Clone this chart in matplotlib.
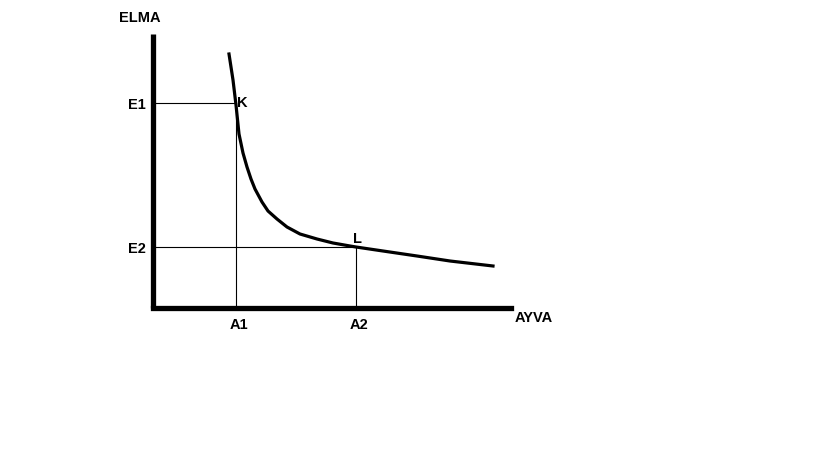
import matplotlib.pyplot as plt

# indifference curve (ayva on x, elma on y)
ayva = [76, 80, 83, 86, 90, 94, 98, 102, 109, 115, 124, 134, 147, 164, 180, 197, 203,
        230, 264, 297, 340]
elma = [254, 228, 203, 174, 155, 141, 129, 119, 106, 97, 89, 81, 74, 69, 65, 62, 61,
        57, 52, 47, 42]

x_ticks = [83, 203]
x_labels = ["A1", "A2"]
y_ticks = [205, 61]
y_labels = ["E1", "E2"]
points = ["K", "L"]

x_max = 358
y_max = 274

plt.rcParams["font.family"] = ["Liberation Sans", "DejaVu Sans"]

fig = plt.figure(figsize=(8.16, 4.6), dpi=100)
ax = fig.add_axes([0, 0, 1, 1])
ax.set_xlim(-153, 663)
ax.set_ylim(-151, 309)
ax.axis("off")

# axes
ax.plot([0, 0], [0, y_max], color="black", lw=3.8, solid_capstyle="butt")
ax.plot([0, x_max], [0, 0], color="black", lw=3.8, solid_capstyle="projecting")

# guide lines
for xv, yv in zip(x_ticks, y_ticks):
    ax.plot([0, xv], [yv, yv], color="black", lw=0.8)
    ax.plot([xv, xv], [0, yv], color="black", lw=0.8)

ax.plot(ayva, elma, color="black", lw=2.3, solid_joinstyle="round")

txt = dict(fontsize=10.5, fontweight="bold", color="black")
ax.text(-13, 291, "ELMA", ha="center", va="center", **txt)
ax.text(x_max + 23, -9, "AYVA", ha="center", va="center", **txt)
for xv, lab in zip(x_ticks, x_labels):
    ax.text(xv + 3, -16, lab, ha="center", va="center", **txt)
for yv, lab in zip(y_ticks, y_labels):
    ax.text(-7, yv - 1, lab, ha="right", va="center", **txt)
ax.text(x_ticks[0] + 1, y_ticks[0] + 1, points[0], ha="left", va="center", **txt)
ax.text(x_ticks[1] + 1, y_ticks[1] + 9, points[1], ha="center", va="center", **txt)

plt.savefig("out.png", dpi=100)
